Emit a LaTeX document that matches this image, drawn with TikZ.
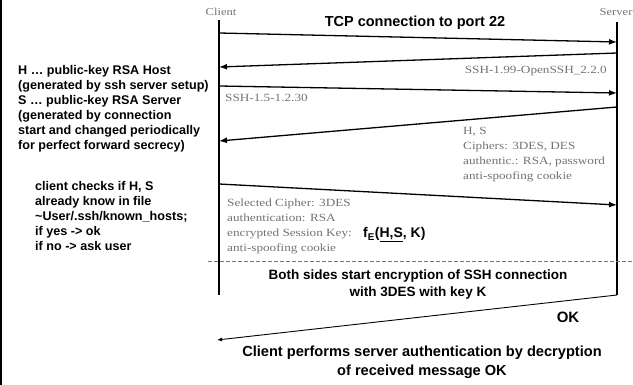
\documentclass[tikz,border=0pt]{standalone}
\usepackage{fontspec}
\setsansfont{Liberation Sans}
\newfontfamily\serverfont[FakeStretch=1.2]{Liberation Serif}
\usetikzlibrary{arrows.meta}
\definecolor{msggray}{RGB}{115,115,115}
\tikzset{
  note/.style={font=\sffamily\bfseries\fontsize{12.6}{15}\selectfont, inner sep=0pt, align=left},
  tag/.style={font=\serverfont\fontsize{11}{15}\selectfont, text=msggray, inner sep=0pt, align=left},
  actor/.style={font=\serverfont\fontsize{10.5}{12}\selectfont, text=msggray, inner sep=0pt},
  msg/.style={line width=1.3pt, -{Latex[length=8pt,width=6pt]}},
  life/.style={line width=1.2pt},
}
\begin{document}
\begin{tikzpicture}[x=1pt,y=-1pt]
\useasboundingbox (0,0) rectangle (633,385);
\draw[line width=2pt] (1,0) -- (1,385);

\node[actor, anchor=base] (client) at (221,16) {Client};
\node[actor, anchor=base] (server) at (616,16) {Server};
\coordinate (ctop) at (219,20);
\coordinate (cbot) at (219,295);
\coordinate (stop) at (617,22);
\coordinate (sbot) at (617,295);
\draw[life] (ctop) -- (cbot);
\draw[life] (stop) -- (sbot);

\coordinate (c1) at (219,33);
\coordinate (s1) at (617,42);
\coordinate (s2) at (617,53);
\coordinate (c2) at (219,67);
\coordinate (c3) at (219,86);
\coordinate (s3) at (617,93);
\coordinate (s4) at (617,107);
\coordinate (c4) at (219,141);
\coordinate (c5) at (219,184);
\coordinate (s5) at (617,205);
\coordinate (ok) at (217,340);
\draw[msg] (c1) -- (s1);
\draw[msg] (s2) -- (c2);
\draw[msg] (c3) -- (s3);
\draw[msg] (s4) -- (c4);
\draw[msg] (c5) -- (s5);
\draw[line width=0.9pt, -{Latex[length=5pt,width=4pt]}] (sbot) -- (ok);

\coordinate (dl) at (208,261);
\coordinate (dr) at (633,261);
\draw[msggray, line width=0.8pt, dash pattern=on 4pt off 2pt] (dl) -- (dr);

\node[note, font=\sffamily\bfseries\fontsize{14.5}{17}\selectfont, anchor=base] (tcp) at (415,27) {TCP connection to port 22};

\node[note, anchor=base west] (keys) at (18,150) {H … public-key RSA Host\\(generated by ssh server setup)\\S … public-key RSA Server\\(generated by connection\\start and changed periodically\\for perfect forward secrecy)};
\node[note, anchor=base west] (check) at (35,251) {client checks if H, S\\already know in file\\\textasciitilde User/.ssh/known\_hosts;\\if yes -> ok\\if no -> ask user};

\node[tag, anchor=base east] (ver2) at (607,74) {SSH-1.99-OpenSSH\_2.2.0};
\node[tag, anchor=base west] (ver1) at (225,102) {SSH-1.5-1.2.30};
\node[tag, anchor=base west] (offer) at (463,180) {H, S\\Ciphers: 3DES, DES\\authentic.: RSA, password\\anti-spoofing cookie};
\node[tag, anchor=base west] (choice) at (227,252) {Selected Cipher: 3DES\\authentication: RSA\\encrypted Session Key:\\anti-spoofing cookie};
\node[note, font=\sffamily\bfseries\fontsize{14}{16}\selectfont, anchor=base west] (fe) at (363,238) {f\textsubscript{E}(\underline{H,S}, K)};

\node[note, font=\sffamily\bfseries\fontsize{13.5}{17}\selectfont, align=center, anchor=base] (both) at (418,297) {Both sides start encryption of SSH connection\\with 3DES with key K};
\node[note, font=\sffamily\bfseries\fontsize{15}{18}\selectfont, anchor=base] (okl) at (568,323) {OK};
\node[note, font=\sffamily\bfseries\fontsize{14.6}{18}\selectfont, align=center, anchor=base] (auth) at (422,375) {Client performs server authentication by decryption\\of received message OK};
\end{tikzpicture}
\end{document}
